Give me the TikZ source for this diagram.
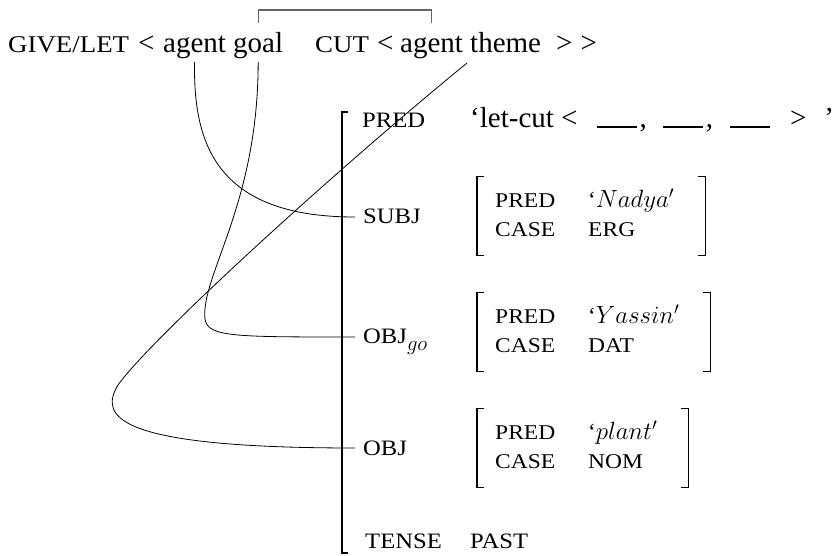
\documentclass[tikz,border=0pt]{standalone}
\usepackage{fontspec}
\setmainfont{Liberation Serif}
\usepackage{graphicx}
\usepackage{tikz}
\usetikzlibrary{calc}

\newcommand{\argblank}{\rule{40pt}{2pt}}
\newcommand{\wide}[1]{\scalebox{1.12}[1]{#1}}
\newcommand{\gfsub}[1]{\raisebox{-6pt}{\fontsize{20}{24}\selectfont$#1$}}
\newcommand{\fsname}[1]{{\fontsize{21}{29}\selectfont\wide{#1}}}

\begin{document}
\begin{tikzpicture}[x=1pt, y=-1pt,
    word/.style={inner sep=0pt, anchor=base west, font=\fontsize{29}{35}\selectfont},
    pname/.style={word, font=\fontsize{24}{29}\selectfont},
    attr/.style={inner sep=0pt, anchor=base west, font=\fontsize{22}{28}\selectfont},
    bigval/.style={inner sep=0pt, anchor=base west, font=\fontsize{29}{34}\selectfont},
    subfs/.style={inner sep=0pt, anchor=west, font=\fontsize{23}{29}\selectfont},
    fsbar/.style={line width=1.6pt},
    subbar/.style={line width=1.1pt},
    link/.style={line width=1.2pt, draw=black!60},
    wire/.style={line width=0.8pt},
]
    \useasboundingbox (0,0) rectangle (836,556);

    % Argument structure (top line)
    \node[pname] (giveLet) at (8,53) {\wide{GIVE/LET}};
    \node[word]  (lt1)     at (138,53) {<};
    \node[word]  (agentA)  at (163,53) {agent};
    \node[word]  (goalA)   at (233,53) {goal};
    \node[pname] (cut)     at (315,53) {\wide{CUT}};
    \node[word]  (lt2)     at (377,53) {<};
    \node[word]  (agentB)  at (400,53) {agent};
    \node[word]  (themeB)  at (470,53) {theme};
    \node[word]  (gt)      at (556,53) {>\hspace{8pt}>};

    % Fusion link goal -- agent
    \coordinate (linkL) at ([shift={(0,-30)}]goalA.base);
    \coordinate (linkR) at ([shift={(0,-30)}]agentB.base);
    \draw[link] (linkL) -- ++(0,-13) -| (linkR);

    % F-structure (outer)
    \draw[fsbar] (348,112) -- (342,112) -- (342,553) -- (348,553);
    \node[attr]   (pred)   at (362,128) {\wide{PRED}};
    \node[bigval] (letcut) at (470,128) {`let-cut <\hspace{19pt}\argblank\hspace{3pt},\hspace{16pt}\argblank\hspace{3pt},\hspace{17pt}\argblank\hspace{20pt}>\hspace{18pt}'};
    \node[attr]   (subj)   at (363,224) {\wide{SUBJ}};
    \node[attr]   (objgo)  at (363,344) {\wide{OBJ}\gfsub{go}};
    \node[attr]   (obj)    at (363,455) {\wide{OBJ}};
    \node[attr]   (tense)  at (365,548) {\wide{TENSE}};
    \node[attr]   (past)   at (470,548) {\wide{PAST}};

    % Embedded f-structures
    \node[subfs] (subjfs)  at (495,216) {\begin{tabular}{@{}p{93pt}@{}l@{}}\fsname{PRED} & `$Nadya'$\\ \fsname{CASE} & \fsname{ERG}\end{tabular}};
    \node[subfs] (objgofs) at (495,332) {\begin{tabular}{@{}p{93pt}@{}l@{}}\fsname{PRED} & `$Yassin'$\\ \fsname{CASE} & \fsname{DAT}\end{tabular}};
    \node[subfs] (objfs)   at (495,448) {\begin{tabular}{@{}p{93pt}@{}l@{}}\fsname{PRED} & `$plant'$\\ \fsname{CASE} & \fsname{NOM}\end{tabular}};
    \foreach \fs in {subjfs, objgofs, objfs} {
        \draw[subbar] ($(\fs.north west)+(-11,-10)$) -- ++(-7,0) |- ($(\fs.south west)+(-11,10)$);
        \draw[subbar] ($(\fs.north east)+(24,-10)$) -- ++(7,0) |- ($(\fs.south east)+(24,10)$);
    }

    % Mapping lines
    \draw[wire] ([shift={(0,9)}]agentA.base) .. controls +(-1.5,80) and +(-140,0) .. ([shift={(-8,-7)}]subj.base west);
    \draw[wire] ([shift={(0,9)}]goalA.base) .. controls +(0,138) and +(0,-45) .. ++(-53.5,253)
        .. controls +(0,22) and +(-130,0) .. ([shift={(-8,-7)}]objgo.base west);
    \draw[wire] ([shift={(-3,10)}]themeB.base west) .. controls +(-137,112) and +(32,-45) .. ++(-349,322)
        .. controls +(-18,30) and +(-245,0) .. ([shift={(-8,-7)}]obj.base west);
\end{tikzpicture}
\end{document}
